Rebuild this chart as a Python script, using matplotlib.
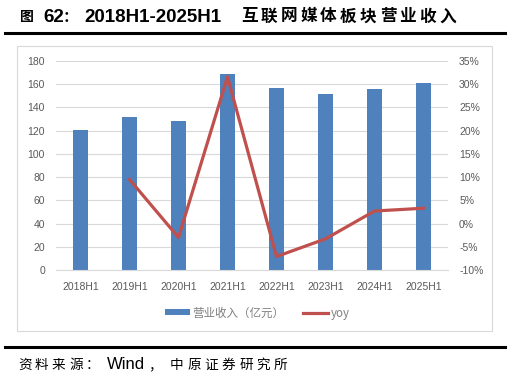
import numpy as np
import matplotlib.pyplot as plt
from matplotlib.patches import Rectangle
from matplotlib.lines import Line2D

plt.rcParams['font.family'] = ['Liberation Sans', 'Noto Sans CJK SC']

# dados
periodos = ["2018H1", "2019H1", "2020H1", "2021H1", "2022H1", "2023H1", "2024H1", "2025H1"]
receita = [120.5, 132.0, 128.3, 169.0, 157.0, 151.6, 155.9, 160.8]
yoy = [np.nan, 9.5, -3.0, 31.6, -7.1, -3.3, 2.7, 3.3]

cor_barra = "#4F81BD"
cor_linha = "#C0504D"
cor_texto = "#595959"
cor_grade = "#D9D9D9"

W, H = 511, 378
fig = plt.figure(figsize=(W / 100, H / 100), dpi=100)

CJK = ['Noto Sans CJK SC', 'DejaVu Sans']
LAT = ['Liberation Sans', 'Noto Sans CJK SC']


def texto_px(s, x, y, **kw):
    fig.text(x / W, 1 - y / H, s, ha="left", va="baseline", **kw)


def cjk_espacado(s, x0, passo, y, **kw):
    # caracteres CJK com espaçamento fixo (como no original)
    for i, c in enumerate(s):
        texto_px(c, x0 + i * passo, y, family=CJK, **kw)


# título
texto_px("图", 20, 21.5, family=CJK, fontsize=10, fontweight="bold")
texto_px("62", 43, 21.5, family=LAT, fontsize=13.5, fontweight="bold")
texto_px("：", 63, 21.5, family=CJK, fontsize=11, fontweight="bold")
texto_px("2018H1-2025H1", 84, 21.5, family=LAT, fontsize=13.5, fontweight="bold")
cjk_espacado("互联网媒体板块营业收入", 241, 19.8, 21.5, fontsize=12, fontweight="bold")

# linhas pretas
fig.add_artist(Line2D([5 / W, 505 / W], [1 - 33 / H, 1 - 33 / H], color="black", lw=2.2))
fig.add_artist(Line2D([5 / W, 505 / W], [1 - 347 / H, 1 - 347 / H], color="black", lw=2.2))

# fonte
cjk_espacado("资料来源：", 18, 17, 369, fontsize=9.8)
texto_px("Wind", 107, 369, family=LAT, fontsize=12)
texto_px("，", 148, 369, family=CJK, fontsize=9.8)
cjk_espacado("中原证券研究所", 170, 17.3, 369, fontsize=9.8)

# moldura do gráfico
fig.add_artist(Rectangle((17 / W, 1 - 331 / H), (492 - 17) / W, (331 - 46) / H,
                         transform=fig.transFigure, fill=False, edgecolor="#D9D9D9", lw=0.8))

# área de plotagem
ax = fig.add_axes([56 / W, 1 - 270 / H, (448 - 56) / W, (270 - 61) / H])
x = np.arange(len(periodos))
ax.bar(x, receita, width=0.31, color=cor_barra, zorder=2, label="营业收入（亿元）")
ax.set_ylim(0, 180)
ax.set_yticks(range(0, 181, 20))
ax.set_xlim(-0.5, len(periodos) - 0.5)
ax.set_xticks(x)
ax.set_xticklabels(periodos)
ax.grid(axis="y", color=cor_grade, lw=0.8, zorder=0)
for s in ["top", "left", "right"]:
    ax.spines[s].set_visible(False)
ax.spines["bottom"].set_color(cor_grade)
ax.tick_params(length=0, labelsize=7.5, colors=cor_texto)
ax.tick_params(axis="x", pad=8.5)
ax.tick_params(axis="y", pad=8)

ax2 = ax.twinx()
ax2.plot(x, yoy, color=cor_linha, lw=2.3, zorder=3, label="yoy")
ax2.set_ylim(-10, 35)
ax2.set_yticks(range(-10, 36, 5))
ax2.set_yticklabels([f"{v}%" for v in range(-10, 36, 5)])
for s in ["top", "left", "right", "bottom"]:
    ax2.spines[s].set_visible(False)
ax2.tick_params(length=0, labelsize=7.5, colors=cor_texto, pad=8)

h1, l1 = ax.get_legend_handles_labels()
h2, l2 = ax2.get_legend_handles_labels()
leg = fig.legend(h1 + h2, l1 + l2, loc="center", bbox_to_anchor=(257 / W, 1 - 313 / H),
                 ncol=2, frameon=False, fontsize=8.3, labelcolor="#7F7F7F",
                 handlelength=2.2, handleheight=0.45, handletextpad=0.2, columnspacing=1.6)
for t in leg.get_texts():
    t.set_family(CJK)

fig.savefig("out.png", dpi=100)
